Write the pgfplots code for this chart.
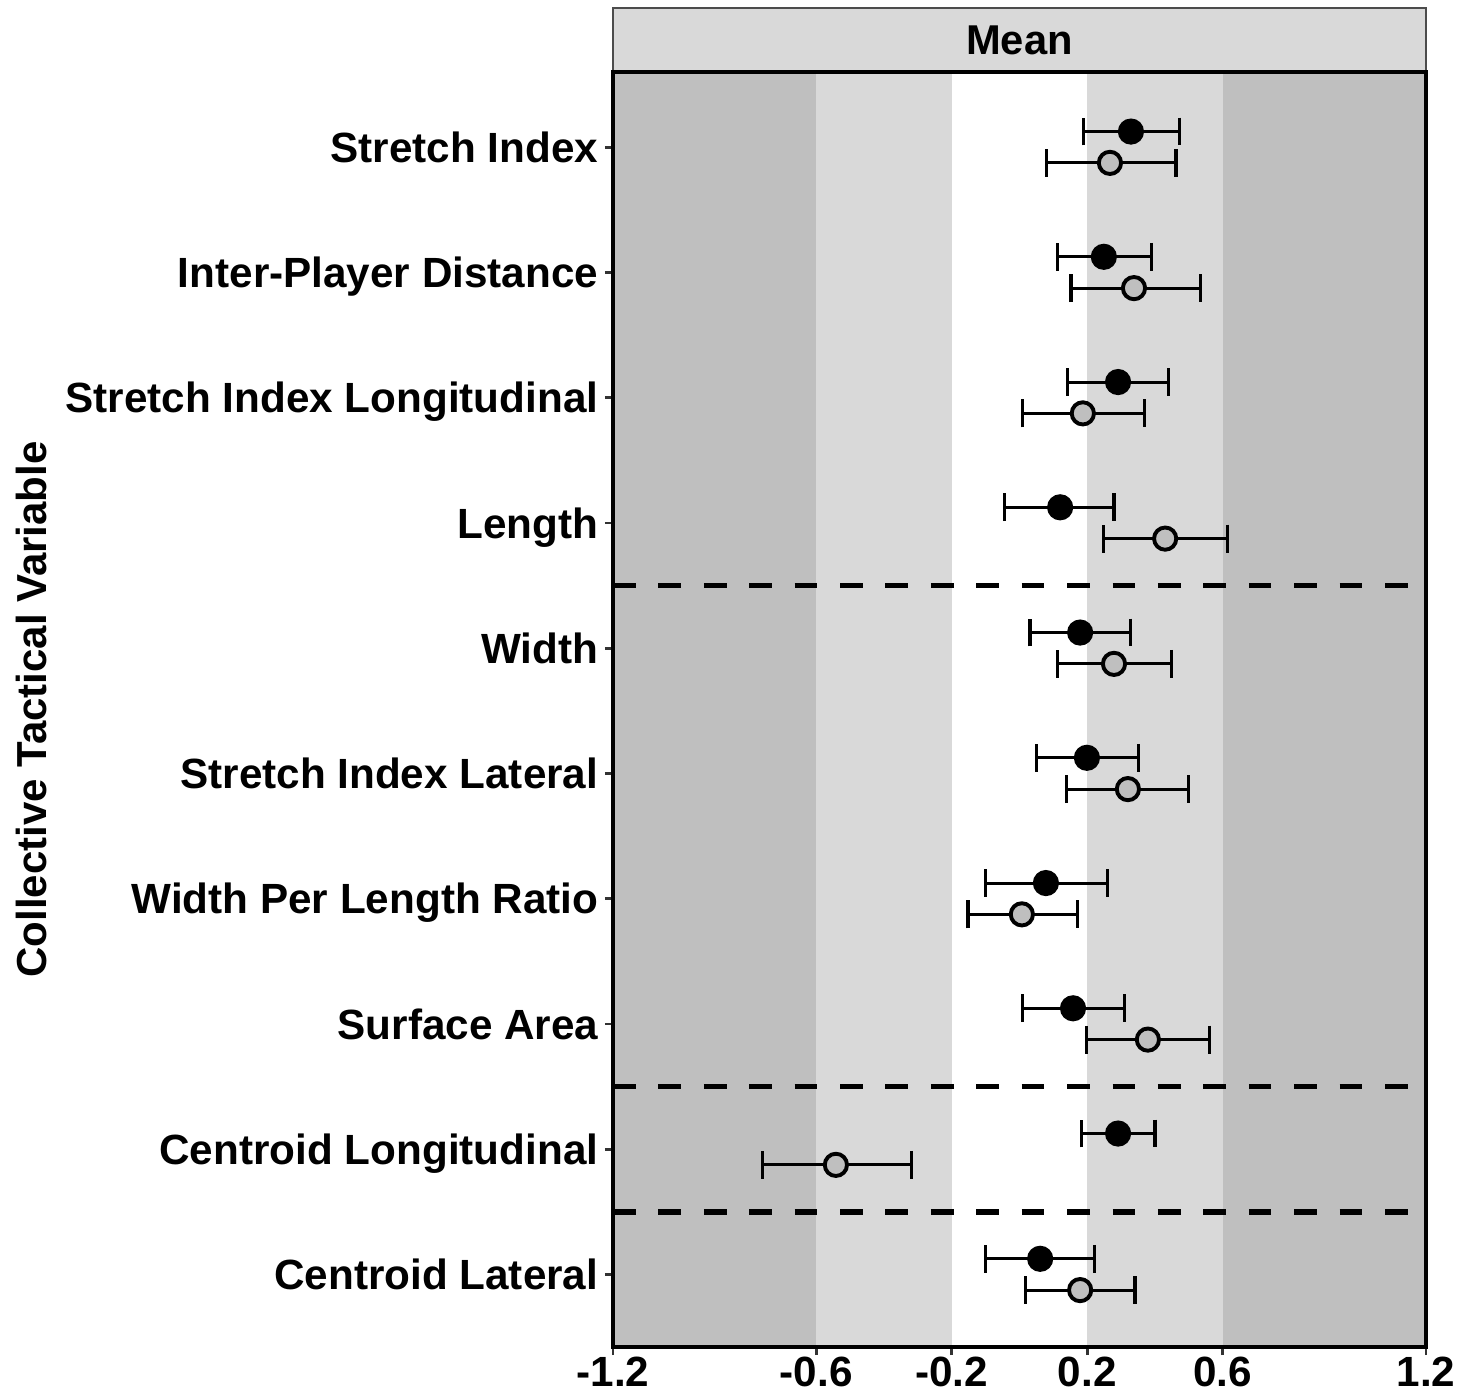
\documentclass[border=0pt]{standalone}
\usepackage{fontspec}
\setmainfont{Liberation Sans}
\usepackage{pgfplots}
\usepackage{pgfplotstable}
\pgfplotsset{compat=1.18}
\definecolor{bandD}{RGB}{191,191,191}
\definecolor{bandL}{RGB}{217,217,217}
\definecolor{ptgray}{RGB}{191,191,191}

\pgfplotstableread{
y x lo hi
0.875 0.329 0.190 0.471
1.875 0.249 0.111 0.391
2.875 0.291 0.143 0.441
3.875 0.120 -0.043 0.279
4.875 0.179 0.031 0.329
5.875 0.199 0.049 0.350
6.875 0.078 -0.099 0.261
7.875 0.158 0.010 0.311
8.875 0.291 0.182 0.400
9.875 0.061 -0.099 0.220
}\blackdata

\pgfplotstableread{
y x lo hi
1.125 0.267 0.081 0.462
2.125 0.338 0.152 0.533
3.125 0.187 0.010 0.370
4.125 0.430 0.249 0.613
5.125 0.279 0.111 0.450
6.125 0.320 0.140 0.500
7.125 0.007 -0.152 0.170
8.125 0.379 0.199 0.562
9.125 -0.542 -0.760 -0.320
10.125 0.179 0.019 0.341
}\graydata

\begin{document}
\begin{tikzpicture}[x=1pt,y=1pt]
\path[use as bounding box] (0,0) rectangle (530,503.4);
% strip
\draw[fill=bandL, draw=black!70, line width=0.5pt] (220.56,477.47) rectangle (513.09,500.5);
\node[inner sep=0pt, font=\fontsize{15}{18}\selectfont\bfseries] at (366.8,489.0) {Mean};
% y label
\node[rotate=90, inner sep=0pt, font=\fontsize{15.1}{18}\selectfont\bfseries] at (11.2,248.1) {Collective Tactical Variable};
\begin{axis}[
  at={(220.56pt,18.71pt)}, anchor=south west,
  scale only axis, width=292.53pt, height=458.76pt,
  xmin=-1.2, xmax=1.2, ymin=0.4, ymax=10.58, y dir=reverse,
  axis on top,
  xtick={-1.2,-0.6,-0.2,0.2,0.6,1.2},
  xticklabels={-1.2,-0.6,-0.2,0.2,0.6,1.2},
  ytick={1,2,3,4,5,6,7,8,9,10},
  yticklabels={Stretch Index, Inter-Player Distance, Stretch Index Longitudinal, Length, Width, Stretch Index Lateral, Width Per Length Ratio, Surface Area, Centroid Longitudinal, Centroid Lateral},
  xtick pos=lower, ytick pos=left,
  tick align=outside, major tick length=2.9pt,
  tick style={line width=1pt, black!80},
  tick label style={font=\fontsize{15.2}{18}\selectfont\bfseries, inner sep=0pt},
  yticklabel style={text height=10.9pt, text depth=0pt, anchor=east, xshift=-2.2pt},
  xticklabel style={text height=10.9pt, text depth=0pt, anchor=north},
  axis line style={line width=1.3pt, black},
]
\fill[bandD] (axis cs:-1.2,0.4) rectangle (axis cs:-0.6,10.58);
\fill[bandL] (axis cs:-0.6,0.4) rectangle (axis cs:-0.2,10.58);
\fill[bandL] (axis cs:0.2,0.4) rectangle (axis cs:0.6,10.58);
\fill[bandD] (axis cs:0.6,0.4) rectangle (axis cs:1.2,10.58);
\draw[black, line width=2pt, dash pattern=on 8.17pt off 8.17pt] (axis cs:-1.2,4.5) -- (axis cs:1.2,4.5);
\draw[black, line width=2pt, dash pattern=on 8.17pt off 8.17pt] (axis cs:-1.2,8.5) -- (axis cs:1.2,8.5);
\draw[black, line width=2pt, dash pattern=on 8.17pt off 8.17pt] (axis cs:-1.2,9.5) -- (axis cs:1.2,9.5);
\addplot[only marks, mark=*, mark size=4pt, mark options={fill=black, draw=black, line width=1.4pt},
  error bars/.cd, x dir=both, x explicit, error mark=|,
  error bar style={line width=1.1pt, black},
  error mark options={line width=1.1pt, mark size=5pt, black}]
  table[x=x, y=y, x error plus expr=\thisrow{hi}-\thisrow{x}, x error minus expr=\thisrow{x}-\thisrow{lo}] {\blackdata};
\addplot[only marks, mark=*, mark size=4pt, mark options={fill=ptgray, draw=black, line width=1.4pt},
  error bars/.cd, x dir=both, x explicit, error mark=|,
  error bar style={line width=1.1pt, black},
  error mark options={line width=1.1pt, mark size=5pt, black}]
  table[x=x, y=y, x error plus expr=\thisrow{hi}-\thisrow{x}, x error minus expr=\thisrow{x}-\thisrow{lo}] {\graydata};
\end{axis}
\end{tikzpicture}
\end{document}
